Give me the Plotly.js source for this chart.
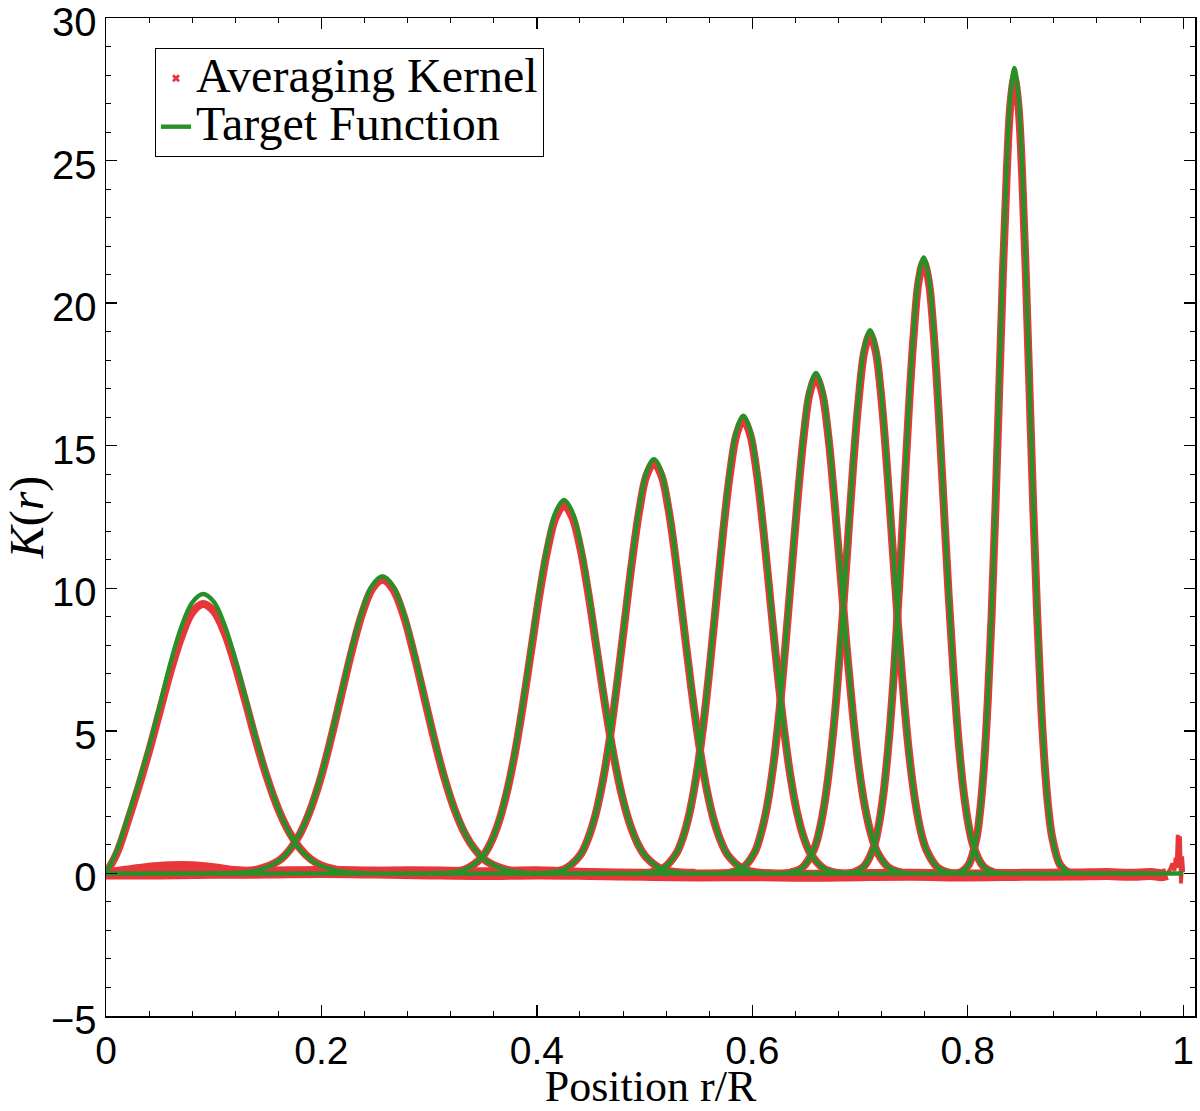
<!DOCTYPE html>
<html>
<head>
<meta charset="utf-8">
<script src="https://cdn.plot.ly/plotly-3.0.1.min.js"></script>
<style>
  html, body { margin: 0; padding: 0; background: #fff; }
  #chart { width: 1200px; height: 1111px; }
</style>
</head>
<body>
<div id="chart"></div>
<script>
// ---------------- data ----------------
// Kernel 1 (centre ~0.09)
const x1 = [0, 0.01, 0.02, 0.03, 0.04, 0.05, 0.06, 0.07, 0.08, 0.09, 0.10, 0.11, 0.12, 0.13, 0.14, 0.15, 0.16, 0.17, 0.18, 0.19, 0.20, 0.22, 0.24];
const target1 = [0.0, 0.8, 1.95, 3.15, 4.45, 5.9, 7.4, 8.65, 9.5, 9.8, 9.53, 8.72, 7.51, 6.09, 4.65, 3.34, 2.26, 1.44, 0.86, 0.49, 0.26, 0.06, 0.01];
const kernel1 = [0.0, 0.7, 1.8, 3.0, 4.3, 5.7, 7.1, 8.3, 9.15, 9.45, 9.2, 8.45, 7.3, 5.95, 4.55, 3.3, 2.25, 1.45, 0.88, 0.5, 0.28, 0.1, 0.06];
// Kernel 2 (centre ~0.257)
const x2 = [0.1035, 0.1227, 0.1418, 0.1610, 0.1705, 0.1801, 0.1897, 0.1993, 0.2088, 0.2184, 0.2280, 0.2376, 0.2471, 0.2567, 0.2663, 0.2759, 0.2854, 0.2950, 0.3046, 0.3142, 0.3237, 0.3333, 0.3429, 0.3525, 0.3716, 0.3908, 0.4099];
const target2 = [0.003, 0.023, 0.116, 0.457, 0.829, 1.410, 2.254, 3.383, 4.770, 6.320, 7.865, 9.196, 10.099, 10.42, 10.099, 9.196, 7.865, 6.320, 4.770, 3.383, 2.254, 1.410, 0.829, 0.457, 0.116, 0.023, 0.003];
const kernel2 = [0.05, 0.07, 0.15, 0.46, 0.82, 1.39, 2.23, 3.34, 4.72, 6.25, 7.77, 9.09, 9.98, 10.30, 9.98, 9.09, 7.77, 6.25, 4.72, 3.34, 2.23, 1.39, 0.82, 0.45, 0.13, 0.05, 0.03];
// Kernel 3 (centre ~0.425)
const x3 = [0.3032, 0.3185, 0.3337, 0.3490, 0.3566, 0.3642, 0.3718, 0.3795, 0.3871, 0.3947, 0.4023, 0.4100, 0.4176, 0.4252, 0.4328, 0.4405, 0.4481, 0.4557, 0.4633, 0.4710, 0.4786, 0.4862, 0.4938, 0.5015, 0.5167, 0.5320, 0.5472];
const target3 = [0.004, 0.029, 0.145, 0.575, 1.043, 1.772, 2.834, 4.254, 5.997, 7.945, 9.888, 11.561, 12.697, 13.1, 12.697, 11.561, 9.888, 7.945, 5.997, 4.254, 2.834, 1.772, 1.043, 0.575, 0.145, 0.029, 0.004];
const kernel3 = [0.04, 0.05, 0.15, 0.57, 1.03, 1.75, 2.79, 4.19, 5.91, 7.82, 9.74, 11.38, 12.50, 12.90, 12.50, 11.38, 9.74, 7.82, 5.91, 4.19, 2.79, 1.75, 1.03, 0.57, 0.14, 0.04, 0.02];
// Kernel 4 (centre ~0.509)
const x4 = [0.3987, 0.4125, 0.4262, 0.4400, 0.4468, 0.4537, 0.4606, 0.4675, 0.4743, 0.4812, 0.4881, 0.4950, 0.5018, 0.5087, 0.5156, 0.5225, 0.5293, 0.5362, 0.5431, 0.5500, 0.5568, 0.5637, 0.5706, 0.5775, 0.5912, 0.6050, 0.6187];
const target4 = [0.004, 0.032, 0.161, 0.638, 1.157, 1.966, 3.143, 4.718, 6.652, 8.812, 10.967, 12.823, 14.082, 14.53, 14.082, 12.823, 10.967, 8.812, 6.652, 4.718, 3.143, 1.966, 1.157, 0.638, 0.161, 0.032, 0.004];
const kernel4 = [0.03, 0.04, 0.16, 0.63, 1.15, 1.95, 3.12, 4.68, 6.59, 8.73, 10.87, 12.71, 13.96, 14.40, 13.96, 12.71, 10.87, 8.73, 6.59, 4.68, 3.12, 1.95, 1.15, 0.63, 0.16, 0.03, 0.0];
// Kernel 5 (centre ~0.592)
const x5 = [0.4921, 0.5046, 0.5170, 0.5295, 0.5357, 0.5419, 0.5481, 0.5544, 0.5606, 0.5668, 0.5730, 0.5793, 0.5855, 0.5917, 0.5979, 0.6042, 0.6104, 0.6166, 0.6228, 0.6291, 0.6353, 0.6415, 0.6477, 0.6540, 0.6664, 0.6789, 0.6913];
const target5 = [0.005, 0.035, 0.178, 0.705, 1.278, 2.172, 3.472, 5.211, 7.348, 9.734, 12.115, 14.164, 15.556, 16.05, 15.556, 14.164, 12.115, 9.734, 7.348, 5.211, 3.472, 2.172, 1.278, 0.705, 0.178, 0.035, 0.005];
const kernel5 = [0.0, 0.03, 0.17, 0.70, 1.27, 2.15, 3.44, 5.16, 7.28, 9.64, 12.00, 14.03, 15.41, 15.90, 15.41, 14.03, 12.00, 9.64, 7.28, 5.16, 3.44, 2.15, 1.27, 0.70, 0.17, 0.02, -0.02];
// Kernel 6 (centre ~0.659)
const x6 = [0.5683, 0.5796, 0.5910, 0.6024, 0.6080, 0.6137, 0.6194, 0.6251, 0.6307, 0.6364, 0.6421, 0.6478, 0.6534, 0.6591, 0.6648, 0.6705, 0.6761, 0.6818, 0.6875, 0.6932, 0.6988, 0.7045, 0.7102, 0.7159, 0.7272, 0.7386, 0.7499];
const target6 = [0.005, 0.039, 0.195, 0.770, 1.397, 2.375, 3.796, 5.698, 8.034, 10.644, 13.247, 15.488, 17.009, 17.55, 17.009, 15.488, 13.247, 10.644, 8.034, 5.698, 3.796, 2.375, 1.397, 0.770, 0.195, 0.039, 0.005];
const kernel6 = [-0.02, 0.03, 0.19, 0.76, 1.39, 2.35, 3.76, 5.65, 7.97, 10.55, 13.13, 15.36, 16.86, 17.40, 16.86, 15.36, 13.13, 10.55, 7.97, 5.65, 3.76, 2.35, 1.39, 0.76, 0.19, 0.03, -0.02];
// Kernel 7 (centre ~0.709)
const x7 = [0.6257, 0.6362, 0.6466, 0.6571, 0.6623, 0.6675, 0.6727, 0.6780, 0.6832, 0.6884, 0.6936, 0.6989, 0.7041, 0.7093, 0.7145, 0.7198, 0.7250, 0.7302, 0.7354, 0.7407, 0.7459, 0.7511, 0.7563, 0.7616, 0.7720, 0.7825, 0.7929];
const target7 = [0.006, 0.042, 0.211, 0.836, 1.516, 2.577, 4.121, 6.186, 8.721, 11.554, 14.379, 16.812, 18.463, 19.05, 18.463, 16.812, 14.379, 11.554, 8.721, 6.186, 4.121, 2.577, 1.516, 0.836, 0.211, 0.042, 0.006];
const kernel7 = [-0.02, 0.04, 0.21, 0.83, 1.50, 2.56, 4.09, 6.14, 8.65, 11.46, 14.27, 16.68, 18.32, 18.90, 18.32, 16.68, 14.27, 11.46, 8.65, 6.14, 4.09, 2.56, 1.50, 0.83, 0.21, 0.03, -0.02];
// Kernel 8 (centre ~0.759)
const x8 = [0.6851, 0.6944, 0.7036, 0.7129, 0.7175, 0.7221, 0.7267, 0.7314, 0.7360, 0.7406, 0.7452, 0.7499, 0.7545, 0.7591, 0.7637, 0.7684, 0.7730, 0.7776, 0.7822, 0.7869, 0.7915, 0.7961, 0.8007, 0.8054, 0.8146, 0.8239, 0.8331];
const target8 = [0.006, 0.048, 0.240, 0.948, 1.719, 2.922, 4.672, 7.014, 9.888, 13.100, 16.304, 19.062, 20.935, 21.6, 20.935, 19.062, 16.304, 13.100, 9.888, 7.014, 4.672, 2.922, 1.719, 0.948, 0.240, 0.048, 0.006];
const kernel8 = [-0.02, 0.04, 0.24, 0.94, 1.71, 2.90, 4.64, 6.97, 9.82, 13.01, 16.19, 18.93, 20.79, 21.45, 20.79, 18.93, 16.19, 13.01, 9.82, 6.97, 4.64, 2.90, 1.71, 0.94, 0.24, 0.04, -0.02];
// Kernel 9 (centre ~0.843)
const x9 = [0.7869, 0.7940, 0.8010, 0.8081, 0.8116, 0.8151, 0.8186, 0.8222, 0.8257, 0.8292, 0.8327, 0.8363, 0.8398, 0.8433, 0.8468, 0.8504, 0.8539, 0.8574, 0.8609, 0.8645, 0.8680, 0.8715, 0.8750, 0.8786, 0.8856, 0.8927, 0.8997];
const target9 = [0.008, 0.062, 0.314, 1.240, 2.249, 3.822, 6.110, 9.173, 12.933, 17.134, 21.323, 24.931, 27.380, 28.25, 27.380, 24.931, 21.323, 17.134, 12.933, 9.173, 6.110, 3.822, 2.249, 1.240, 0.314, 0.062, 0.008];
const kernel9 = [-0.02, 0.05, 0.31, 1.23, 2.22, 3.78, 6.04, 9.06, 12.77, 16.92, 21.06, 24.62, 27.04, 27.90, 27.04, 24.62, 21.06, 16.92, 12.77, 9.06, 6.04, 3.78, 2.22, 1.23, 0.31, 0.05, -0.02];

// Off-peak parts of the averaging kernels (near-zero band, bump near the centre, spike at the surface)
const baseX = [0, 0.02, 0.05, 0.10, 0.15, 0.20, 0.25, 0.30, 0.35, 0.40, 0.45, 0.50, 0.55, 0.60, 0.65, 0.70, 0.75, 0.80, 0.85, 0.90, 0.93, 0.95, 0.97, 0.98, 0.985];
const baseY = [0, 0.0, 0.0, 0.02, 0.03, 0.05, 0.03, 0.0, -0.02, 0.0, -0.02, -0.05, -0.07, -0.06, -0.08, -0.06, -0.05, -0.07, -0.05, -0.04, -0.02, -0.05, -0.02, -0.06, -0.02];
const spikeX = [0.985, 0.988, 0.990, 0.992, 0.993, 0.994, 0.995, 0.996, 0.997, 0.998, 0.999, 1.0];
const spikeY = [-0.02, 0.15, 0.35, 0.1, 0.55, 0.2, 1.35, 0.3, 1.3, -0.35, 0.6, 0.05];
const bumpX = [0, 0.02, 0.04, 0.06, 0.07, 0.08, 0.10, 0.12, 0.14, 0.16, 0.18, 0.20, 0.24, 0.28, 0.32, 0.36, 0.40, 0.44];
const bumpY = [0, 0.12, 0.22, 0.27, 0.28, 0.27, 0.2, 0.1, 0.04, 0.03, 0.06, 0.09, 0.07, 0.09, 0.08, 0.06, 0.09, 0.03];
const zeroX = [0, 1.0];
const zeroY = [0, 0];

const xTickVals = [0, 0.2, 0.4, 0.6, 0.8, 1];
const xTickText = ['0', '0.2', '0.4', '0.6', '0.8', '1'];
const yTickVals = [-5, 0, 5, 10, 15, 20, 25, 30];
const yTickText = ['\u22125', '0', '5', '10', '15', '20', '25', '30'];

const kernelXs = [x1, x2, x3, x4, x5, x6, x7, x8, x9];
const targets = [target1, target2, target3, target4, target5, target6, target7, target8, target9];
const kernels = [kernel1, kernel2, kernel3, kernel4, kernel5, kernel6, kernel7, kernel8, kernel9];

// ---------------- styling ----------------
const RED = '#e8373b';
const GREEN = '#279127';
const redW = 8;
const greenW = 4.4;
const spl = {shape: 'spline', smoothing: 1, simplify: false};

const traces = [];
// red off-peak band
traces.push({x: baseX, y: baseY, mode: 'lines', line: {color: RED, width: 12, shape: 'spline', simplify: false}, showlegend: false, hoverinfo: 'skip'});
traces.push({x: spikeX, y: spikeY, mode: 'lines', line: {color: RED, width: 4, shape: 'linear', simplify: false}, showlegend: false, hoverinfo: 'skip'});
traces.push({x: bumpX, y: bumpY, mode: 'lines', line: Object.assign({color: RED, width: 9}, spl), showlegend: false, hoverinfo: 'skip'});
// red kernels
kernels.forEach((k, i) => {
  traces.push({x: kernelXs[i], y: k, mode: 'lines', line: Object.assign({color: RED, width: redW}, spl), showlegend: false, hoverinfo: 'skip'});
});
// legend entry for the averaging kernel (marker symbol)
traces.push({x: [null], y: [null], mode: 'markers',
  name: '<span style="font-size:48px">Averaging Kernel</span>',
  marker: {symbol: 'x', color: RED, size: 7, line: {width: 0}}});
// green zero line
traces.push({x: zeroX, y: zeroY, mode: 'lines', line: {color: GREEN, width: greenW}, showlegend: false, hoverinfo: 'skip'});
// green targets
targets.forEach((t, i) => {
  traces.push({x: kernelXs[i], y: t, mode: 'lines',
    name: '<span style="font-size:48px">Target Function</span>', legendgroup: 'target',
    showlegend: i === 0, line: Object.assign({color: GREEN, width: greenW}, spl), hoverinfo: 'skip'});
});

const tickFont = {family: '"Liberation Sans", Arial, Helvetica, sans-serif', size: 40, color: '#000'};
const xTickFont = {family: '"Liberation Sans", Arial, Helvetica, sans-serif', size: 39, color: '#000'};
const serif = '"Liberation Serif", "Times New Roman", serif';

const layout = {
  width: 1200, height: 1111,
  margin: {l: 106, r: 5, t: 18, b: 95},
  paper_bgcolor: '#fff', plot_bgcolor: '#fff',
  showlegend: true,
  legend: {
    x: 0.045, y: 0.97, xanchor: 'left', yanchor: 'top',
    bgcolor: '#fff', bordercolor: '#000', borderwidth: 1,
    font: {family: serif, size: 35, color: '#000'},
    tracegroupgap: 0, itemwidth: 30, traceorder: 'normal'
  },
  xaxis: {
    range: [0, 1.011], tickmode: 'array', tickvals: xTickVals, ticktext: xTickText,
    ticks: 'inside', ticklen: 11, tickwidth: 1.3, tickcolor: '#000',
    showline: true, linecolor: '#000', linewidth: 1.5, mirror: 'allticks',
    showgrid: false, zeroline: false, tickfont: xTickFont, ticklabeloverflow: 'allow',
    minor: {dtick: 0.04, tick0: 0, ticks: 'inside', ticklen: 5, tickwidth: 1, tickcolor: '#000', showgrid: false},
    title: {text: 'Position r/R', font: {family: serif, size: 44, color: '#000'}, standoff: 6}
  },
  yaxis: {
    range: [-5, 30], tickmode: 'array', tickvals: yTickVals, ticktext: yTickText,
    ticks: 'inside', ticklen: 11, tickwidth: 1.3, tickcolor: '#000',
    showline: true, linecolor: '#000', linewidth: 1.5, mirror: 'allticks',
    showgrid: false, zeroline: false, tickfont: tickFont, ticklabeloverflow: 'allow',
    ticklabelshift: 4,
    minor: {dtick: 1, tick0: 0, ticks: 'inside', ticklen: 5, tickwidth: 1, tickcolor: '#000', showgrid: false},
    title: {text: '<i>K</i>(<i>r</i>)', font: {family: serif, size: 48, color: '#000'}, standoff: 8}
  }
};

Plotly.newPlot('chart', traces, layout, {staticPlot: true, displayModeBar: false});
</script>
</body>
</html>
